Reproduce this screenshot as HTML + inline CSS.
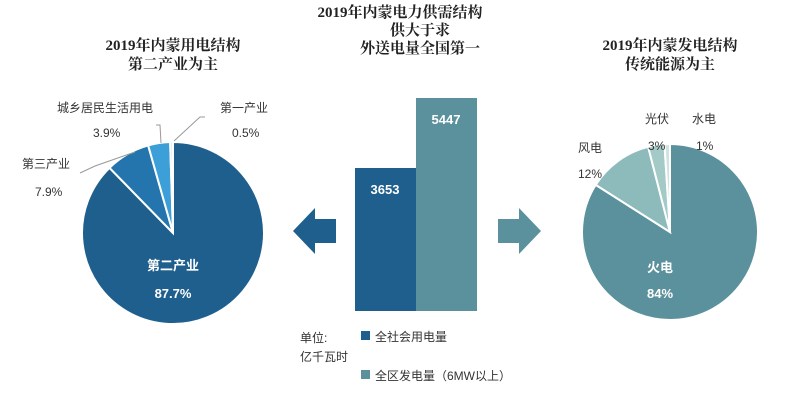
<!DOCTYPE html>
<html><head><meta charset="utf-8"><style>
body{margin:0;background:#fff;width:800px;height:401px;overflow:hidden;font-family:"Liberation Sans","Noto Sans CJK SC",sans-serif;}
svg text{font-family:"Liberation Sans","Noto Sans CJK SC",sans-serif;}
.t{font-weight:bold;font-size:15px;fill:#222;font-family:"Liberation Serif","Noto Serif CJK SC",serif;}
.l{font-size:12px;fill:#333;}
</style></head><body>
<svg id="s" width="800" height="401" xmlns="http://www.w3.org/2000/svg">
<text class="t" x="400" y="17" text-anchor="middle">2019年内蒙电力供需结构</text>
<text class="t" x="420" y="35" text-anchor="middle">供大于求</text>
<text class="t" x="420" y="53" text-anchor="middle">外送电量全国第一</text>
<text class="t" x="173" y="50" text-anchor="middle">2019年内蒙用电结构</text>
<text class="t" x="173" y="69" text-anchor="middle">第二产业为主</text>
<text class="t" x="670" y="50" text-anchor="middle">2019年内蒙发电结构</text>
<text class="t" x="670" y="69" text-anchor="middle">传统能源为主</text>
<g id="p"></g>
<rect x="355" y="168" width="61" height="143" fill="#1e5f8e"/>
<rect x="416" y="98" width="61" height="213" fill="#5a919c"/>
<text x="385" y="194" text-anchor="middle" font-size="13" font-weight="bold" fill="#fff">3653</text>
<text x="446" y="124" text-anchor="middle" font-size="13" font-weight="bold" fill="#fff">5447</text>
<polygon points="293,231 315,208 315,219 336,219 336,243 315,243 315,254" fill="#1e5f8e"/>
<polygon points="498,219 519,219 519,208 541,231 519,254 519,243 498,243" fill="#5a919c"/>
<text class="l" x="300" y="342">单位:</text>
<text class="l" x="300" y="361">亿千瓦时</text>
<rect x="361" y="331" width="9" height="9" fill="#1e5f8e"/>
<text class="l" x="375" y="341">全社会用电量</text>
<rect x="361" y="370" width="9" height="9" fill="#5a919c"/>
<text class="l" x="375" y="380">全区发电量（6MW以上）</text>
<text class="l" x="57" y="112">城乡居民生活用电</text>
<text class="l" x="93" y="137">3.9%</text>
<text class="l" x="220" y="112">第一产业</text>
<text class="l" x="232" y="137">0.5%</text>
<text class="l" x="22" y="168">第三产业</text>
<text class="l" x="35" y="196">7.9%</text>
<text x="173" y="270" text-anchor="middle" font-size="13" font-weight="bold" fill="#fff">第二产业</text>
<text x="173" y="298" text-anchor="middle" font-size="13" font-weight="bold" fill="#fff">87.7%</text>
<text class="l" x="645" y="123">光伏</text>
<text class="l" x="648" y="150">3%</text>
<text class="l" x="692" y="123">水电</text>
<text class="l" x="696" y="150">1%</text>
<text class="l" x="578" y="152">风电</text>
<text class="l" x="578" y="178">12%</text>
<text x="660" y="272" text-anchor="middle" font-size="13" font-weight="bold" fill="#fff">火电</text>
<text x="660" y="298" text-anchor="middle" font-size="13" font-weight="bold" fill="#fff">84%</text>
<polyline points="80,173 95,166 135,152" fill="none" stroke="#999"/>
<polyline points="156,125 160,125 161,143" fill="none" stroke="#999"/>
<polyline points="205,117 200,117 174,141" fill="none" stroke="#999"/>
</svg>
<script>
function pie(cx,cy,r,vals,cols){var g=document.getElementById('p'),a=0,tot=vals.reduce((x,y)=>x+y,0),h='';
vals.forEach(function(v,i){var a2=a+v/tot*2*Math.PI;var x1=cx+r*Math.sin(a),y1=cy-r*Math.cos(a),x2=cx+r*Math.sin(a2),y2=cy-r*Math.cos(a2);
h+='<path d="M'+cx+','+cy+' L'+x1+','+y1+' A'+r+','+r+' 0 '+((a2-a)>Math.PI?1:0)+' 1 '+x2+','+y2+' Z" fill="'+cols[i]+'" stroke="#fff" stroke-width="2"/>';a=a2;});
g.innerHTML+=h;}
pie(173,233,91,[87.7,7.9,3.9,0.5],['#1e5f8e','#2474ad','#3d9fd8','#d8e8f2']);
pie(670,232,88,[84,12,3,1],['#5a919c','#8dbbbc','#a3cac6','#cfe3df']);
</script>
</body></html>
